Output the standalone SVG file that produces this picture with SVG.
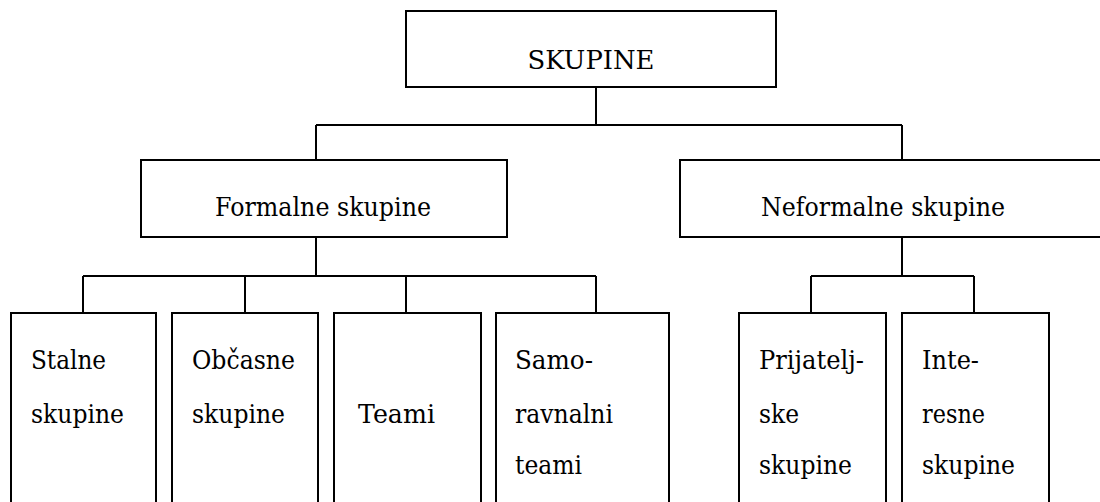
<svg xmlns="http://www.w3.org/2000/svg" width="1100" height="502" viewBox="0 0 1100 502">
<style>
.box{fill:#fff;stroke:#000;stroke-width:2}
.ln{fill:none;stroke:#000;stroke-width:2}
.t{font-family:'DejaVu Serif','Liberation Serif',serif;font-size:26px;fill:#000}
.c{text-anchor:middle}
</style>
<rect width="1100" height="502" fill="#fff"/>
<g id="connectors">
<path class="ln" d="M596,87V125M316,125H902M316,125V160M902,125V160"/>
<path class="ln" d="M316,237V276M83,276H596M83,276V313M245,276V313M406,276V313M596,276V313"/>
<path class="ln" d="M902,237V276M811,276H974M811,276V313M974,276V313"/>
</g>
<g class="t">
<g id="skupine"><rect class="box" x="406" y="11" width="370" height="76"/><text class="c" x="591" y="69" textLength="127" lengthAdjust="spacingAndGlyphs">SKUPINE</text></g>
<g id="formalne"><rect class="box" x="141" y="160" width="366" height="77"/><text class="c" x="323" y="216" textLength="216" lengthAdjust="spacingAndGlyphs">Formalne skupine</text></g>
<g id="neformalne"><rect class="box" x="680" y="160" width="440" height="77"/><text class="c" x="883" y="216" textLength="244" lengthAdjust="spacingAndGlyphs">Neformalne skupine</text></g>
<g id="stalne"><rect class="box" x="11" y="313" width="145" height="200"/><text x="31" y="369" textLength="75" lengthAdjust="spacingAndGlyphs">Stalne</text><text x="31" y="423" textLength="93" lengthAdjust="spacingAndGlyphs">skupine</text></g>
<g id="obcasne"><rect class="box" x="172" y="313" width="146" height="200"/><text x="192" y="369" textLength="103" lengthAdjust="spacingAndGlyphs">Občasne</text><text x="192" y="423" textLength="93" lengthAdjust="spacingAndGlyphs">skupine</text></g>
<g id="teami"><rect class="box" x="334" y="313" width="147" height="200"/><text x="358" y="423" textLength="77" lengthAdjust="spacingAndGlyphs">Teami</text></g>
<g id="samoravnalni"><rect class="box" x="496" y="313" width="173" height="200"/><text x="515" y="369" textLength="78" lengthAdjust="spacingAndGlyphs">Samo-</text><text x="515" y="423" textLength="98" lengthAdjust="spacingAndGlyphs">ravnalni</text><text x="515" y="474" textLength="67" lengthAdjust="spacingAndGlyphs">teami</text></g>
<g id="prijateljske"><rect class="box" x="739" y="313" width="147" height="200"/><text x="759" y="369" textLength="105" lengthAdjust="spacingAndGlyphs">Prijatelj-</text><text x="759" y="423" textLength="40" lengthAdjust="spacingAndGlyphs">ske</text><text x="759" y="474" textLength="93" lengthAdjust="spacingAndGlyphs">skupine</text></g>
<g id="interesne"><rect class="box" x="902" y="313" width="147" height="200"/><text x="922" y="369" textLength="57" lengthAdjust="spacingAndGlyphs">Inte-</text><text x="922" y="423" textLength="63" lengthAdjust="spacingAndGlyphs">resne</text><text x="922" y="474" textLength="93" lengthAdjust="spacingAndGlyphs">skupine</text></g>
</g>
</svg>
